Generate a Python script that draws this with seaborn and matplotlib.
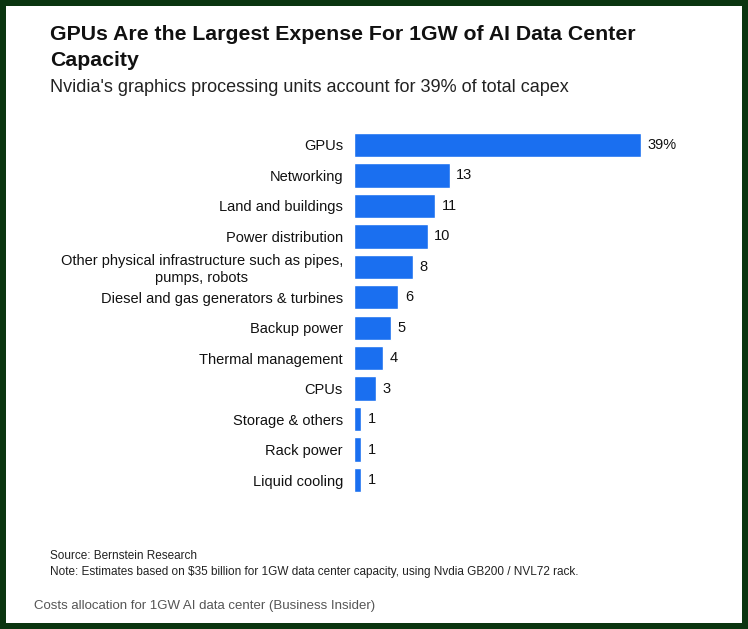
import matplotlib
matplotlib.use("Agg")
import matplotlib.pyplot as plt
import seaborn as sns
import pandas as pd
from matplotlib.patches import Rectangle

categories = ["GPUs", "Networking", "Land and buildings", "Power distribution",
              "Other physical infrastructure such as pipes,\npumps, robots",
              "Diesel and gas generators & turbines", "Backup power",
              "Thermal management", "CPUs", "Storage & others", "Rack power",
              "Liquid cooling"]
values = [39, 13, 11, 10, 8, 6, 5, 4, 3, 1, 1, 1]
value_labels = ["39%", "13", "11", "10", "8", "6", "5", "4", "3", "1", "1", "1"]

df = pd.DataFrame({"category": categories, "value": values})

sns.set_theme(style="white")
plt.rcParams['font.family'] = ['Liberation Sans', 'DejaVu Sans']

W, H = 748, 629
fig = plt.figure(figsize=(W / 100, H / 100), dpi=100)
fig.patch.set_facecolor("#0b3510")
fig.patches.append(Rectangle((6 / W, 6 / H), (W - 12) / W, (H - 12) / H,
                             transform=fig.transFigure, facecolor="white",
                             edgecolor="none", zorder=-10))

ax = fig.add_axes([354 / W, 1 - 495.25 / H, 287 / W, 365.5 / H])
ax.set_facecolor("none")
sns.barplot(data=df, x="value", y="category", color="#1a6ff0", width=0.8,
            saturation=1, ax=ax)
ax.set_xlim(0, 39)
ax.set_ylim(len(categories) - 0.5, -0.5)
for i, (v, lab) in enumerate(zip(values, value_labels)):
    ax.text(v + 0.9, i, lab, va="center", ha="left", fontsize=10.5, color="#111111",
            clip_on=False)
ax.set_xlabel("")
ax.set_ylabel("")
ax.set_xticks([])
ax.tick_params(axis="y", length=0, pad=8, labelsize=10.5, labelcolor="#111111")
for lbl in ax.get_yticklabels():
    lbl.set_horizontalalignment("right")
    lbl.set_multialignment("center")
sns.despine(ax=ax, left=True, bottom=True)

fig.text(50 / W, 1 - 35 / H, "GPUs Are the Largest Expense For 1GW of AI Data Center",
         fontsize=15.3, fontweight="bold", va="center", ha="left", color="#111111")
fig.text(50 / W, 1 - 60 / H, "Capacity",
         fontsize=15.3, fontweight="bold", va="center", ha="left", color="#111111")
fig.text(50 / W, 1 - 88 / H, "Nvidia's graphics processing units account for 39% of total capex",
         fontsize=13, va="center", ha="left", color="#222222")
fig.text(50 / W, 1 - 556 / H, "Source: Bernstein Research", fontsize=8.5, va="center", color="#222222")
fig.text(50 / W, 1 - 572 / H,
         "Note: Estimates based on $35 billion for 1GW data center capacity, using Nvdia GB200 / NVL72 rack.",
         fontsize=8.5, va="center", color="#222222")
fig.text(34 / W, 1 - 606 / H, "Costs allocation for 1GW AI data center (Business Insider)",
         fontsize=9.5, va="center", color="#555555")

fig.savefig("out.png", dpi=100)
